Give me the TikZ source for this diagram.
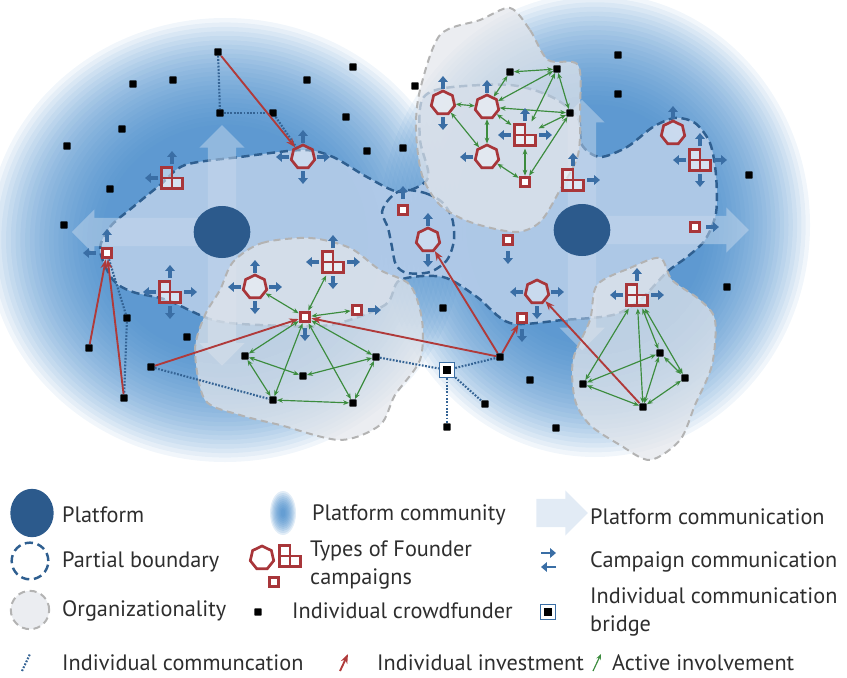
\documentclass[tikz,border=0pt]{standalone}
\usepackage{fontspec}
\setmainfont{PT Sans}
\usetikzlibrary{shapes.geometric,shapes.arrows,arrows.meta}

\definecolor{platblue}{HTML}{2C5A8C}
\definecolor{commblue}{HTML}{3A6EA5}
\definecolor{bndblue}{HTML}{2F5F90}
\definecolor{cloudblue}{HTML}{3F86C8}
\definecolor{innerblue}{HTML}{B4CCE9}
\definecolor{arrowpale}{HTML}{C6D8EC}
\definecolor{campred}{HTML}{A8363A}
\definecolor{invred}{HTML}{B03A3A}
\definecolor{actgreen}{HTML}{3C8C3E}
\definecolor{orggray}{HTML}{E3E6EB}
\definecolor{orgline}{HTML}{B3B3B3}
\definecolor{txtgray}{HTML}{2E2E2E}

\tikzset{
  platform/.style={ellipse, fill=platblue, minimum width=1.7cm, minimum height=1.56cm, inner sep=0pt},
  platcomm/.style={single arrow, fill=arrowpale, fill opacity=0.5, inner xsep=0pt, inner ysep=0.42cm,
    single arrow head extend=0.25cm, anchor=tail},
  crowd/.style={rectangle, rounded corners=0.6pt, fill=black, minimum size=0.22cm, inner sep=0pt},
  bridge/.style={rectangle, draw=commblue, line width=1pt, fill=white, minimum size=0.46cm, inner sep=0pt,
    path picture={\fill[black] ([shift={(-0.11cm,-0.11cm)}]path picture bounding box.center) rectangle ++(0.22cm,0.22cm);}},
  hexa/.style={regular polygon, regular polygon sides=7, draw=campred, line width=2.3pt, fill=white,
    fill opacity=0.35, minimum size=0.72cm, inner sep=0pt},
  sqr/.style={rectangle, draw=campred, line width=2.6pt, fill=white, minimum size=0.29cm, inner sep=0pt},
  tetris/.style={rectangle, minimum size=0.8cm, inner sep=0pt, path picture={
    \foreach \dx/\dy in {-1/0,-1/-1,0/-1}
      \draw[campred, line width=2.1pt, fill=white, fill opacity=0.5]
        ([shift={(\dx*0.31cm,\dy*0.31cm)}]path picture bounding box.center) rectangle ++(0.31cm,0.31cm);}},
  orgreg/.style={fill=orggray, fill opacity=0.72, draw=orgline, line width=1.7pt, dash pattern=on 6pt off 4pt},
  bound/.style={draw=bndblue, line width=2.1pt, dash pattern=on 7pt off 4pt},
  indcomm/.style={draw=commblue!90!black, line width=1.8pt, dash pattern=on 1.5pt off 1.3pt},
  invest/.style={draw=invred, line width=1.6pt, -{Stealth[length=8pt,width=6pt]}},
  active/.style={draw=actgreen, line width=1pt, {Stealth[length=5pt,width=4pt]}-{Stealth[length=5pt,width=4pt]}},
  activeone/.style={draw=actgreen, line width=1pt, -{Stealth[length=5pt,width=4pt]}},
  campcomm/.style={draw=commblue, line width=2.8pt, -{Triangle[width=8pt,length=5pt]}},
  legtext/.style={anchor=west, inner sep=0pt, align=left, text=txtgray, font=\fontsize{19}{24}\selectfont},
}

\begin{document}
\begin{tikzpicture}[x=0.03cm, y=0.03cm]
  \useasboundingbox (0,0) rectangle (847,-677);

  % platform community cloud
  \foreach \k in {0,...,24} {
    \fill[cloudblue, opacity=0.07] (225,-240) ellipse [x radius={238*(1-\k/50)}, y radius={222*(1-\k/50)}];
    \fill[cloudblue, opacity=0.07] (595,-225) ellipse [x radius={215*(1-\k/50)}, y radius={232*(1-\k/50)}];
  }

  % partial boundaries
  \draw[bound, fill=innerblue, fill opacity=0.92] plot[smooth cycle] coordinates {
    (100,-250) (110,-227) (133,-207) (160,-185) (185,-165) (240,-157) (303,-150) (333,-157)
    (367,-177) (400,-192) (428,-178) (420,-140) (422,-100) (445,-88) (510,-85) (552,-97)
    (578,-118) (582,-145) (600,-157) (627,-147) (653,-127) (675,-118) (695,-123) (710,-143)
    (716,-175) (716,-213) (705,-240) (687,-257) (667,-272) (640,-300) (613,-315) (563,-320)
    (510,-323) (477,-297) (443,-277) (400,-280) (385,-305) (330,-325) (260,-325) (213,-320)
    (167,-300) (133,-292) (113,-280)};
  \draw[bound] plot[smooth cycle] coordinates {
    (403,-190) (425,-193) (442,-202) (452,-218) (454,-240) (447,-260) (430,-272) (407,-273)
    (396,-265) (392,-247) (388,-228) (382,-212) (390,-198)};

  % platform communication
  \coordinate (lpc) at (222,-232);
  \coordinate (rpc) at (582,-230);
  \node[platcomm, rotate=90, minimum height=3.2cm] (lpu) at (lpc) {};
  \node[platcomm, rotate=180, minimum height=4.5cm] (lpl) at (lpc) {};
  \node[platcomm, rotate=-90, minimum height=4.0cm] (lpd) at (lpc) {};
  \node[platcomm, rotate=90, minimum height=3.9cm] (rpu) at (rpc) {};
  \node[platcomm, minimum height=5.0cm] (rpr) at (rpc) {};
  \node[platcomm, rotate=-90, minimum height=3.6cm] (rpd) at (rpc) {};

  % organizationality
  \draw[orgreg] plot[smooth cycle] coordinates {
    (510,-8) (530,-30) (548,-60) (578,-65) (580,-110) (578,-155) (560,-190) (540,-222)
    (515,-232) (470,-222) (440,-205) (422,-175) (416,-130) (420,-90) (440,-35) (480,-20)};
  \draw[orgreg] plot[smooth cycle] coordinates {
    (233,-262) (262,-243) (310,-238) (350,-248) (380,-270) (410,-285) (422,-320) (420,-360)
    (395,-395) (380,-425) (340,-440) (280,-425) (240,-415) (205,-400) (195,-350) (205,-315) (220,-290)};
  \draw[orgreg] plot[smooth cycle] coordinates {
    (597,-285) (630,-268) (660,-258) (672,-280) (700,-300) (715,-320) (712,-365) (695,-405)
    (680,-440) (650,-460) (620,-445) (590,-425) (575,-400) (573,-360) (590,-320)};

  % platforms
  \node[platform] (lp) at (lpc) {};
  \node[platform] (rp) at (rpc) {};

  % founder campaigns
  \foreach \n/\x/\y in {h1/303/157, h2/443/103, h3/487/107, h4/487/157, h5/673/133, h6/428/240, h7/255/287, h8/537/292}
    \node[hexa] (\n) at (\x,-\y) {};
  \foreach \n/\x/\y in {t1/172/178, t2/525/135, t3/573/180, t4/700/160, t5/170/292, t6/333/262, t7/637/295}
    \node[tetris] (\n) at (\x,-\y) {};
  \foreach \n/\x/\y in {s1/107/253, s2/403/210, s3/525/182, s4/508/240, s5/695/227, s6/305/317, s7/357/310, s8/522/318}
    \node[sqr] (\n) at (\x,-\y) {};

  % individual crowdfunders
  \foreach \n/\x/\y in {c1/218/52, c2/133/84, c3/173/80, c4/307/80, c5/353/67, c6/415/86, c7/122/129,
      c8/220/113, c9/273/113, c10/346/117, c11/67/146, c12/367/151, c13/403/148, c14/110/189,
      c15/64/225, c16/510/72, c17/557/69, c18/570/113, c19/618/55, c20/618/94, c21/749/175,
      c22/127/318, c23/89/348, c24/124/398, c25/187/337, c26/151/367, c27/245/356, c28/303/376,
      c29/273/400, c30/353/403, c31/376/357, c32/443/308, c33/500/357, c34/530/380, c35/485/404,
      c36/447/427, c37/556/428, c38/583/384, c39/660/353, c40/685/378, c41/643/407, c42/727/287}
    \node[crowd] (\n) at (\x,-\y) {};
  \node[bridge] (br) at (447,-370) {};

  % individual communication
  \foreach \a/\b in {c1/c8, c8/c9, c9/h1, s1/c22, c22/c24, c26/c29, c31/br, br/c33, br/c36, br/c35}
    \draw[indcomm] (\a) -- (\b);

  % individual investment
  \foreach \a/\b in {c1/h1, c23/s1, c24/s1, c26/s6, c33/s6, c33/h6, c33/s8, c41/h8}
    \draw[invest] (\a) -- (\b);

  % active involvement
  \foreach \a/\b in {s6/h7, s6/t6, s6/s7, s6/c27, s6/c29, s6/c30, s6/c31, c27/c28, c27/c29, c29/c30,
      c31/c28, c31/c30, t7/c38, t7/c41, t7/c39, t7/c40, c38/c39, c38/c41, c41/c39, c41/c40, c39/c40,
      h2/h3, h2/h4, h3/c16, h3/c17, c16/c17, h3/c18, h3/t2, h3/h4, c17/c18, c17/t2, c18/t2, c18/s3,
      t2/s3, h4/s3}
    \draw[active] (\a) -- (\b);

  % campaign communication
  \foreach \n/\r/\dirs in {t1/14/{90,180}, h1/14/{0,90,180,270}, s1/11/{90,180}, t5/14/{0,90,180,270},
      h7/14/{0,90,180,270}, t6/14/{0,90,180,270}, s7/11/{0}, s6/11/{270}, s2/11/{90}, h6/14/{90,270},
      s4/11/{270}, h8/14/{0,180,270}, s8/11/{270}, t7/14/{0,90,180}, s5/11/{0}, t4/14/{0,90,180,270},
      h5/14/{90}, t3/14/{0,90}, h2/14/{90,270}, h3/14/{90}, t2/14/{0,90,180}, h4/14/{180}}
    \foreach \a in \dirs
      \draw[campcomm] (\n.center) ++(\a:\r) -- ++(\a:13);

  % legend
  \node[platform, minimum width=1.3cm, minimum height=1.45cm] (lgplat) at (32,-513) {};
  \node[legtext] (lgplatt) at (62,-515) {Platform};
  \foreach \k in {0,...,9}
    \fill[cloudblue, opacity=0.15] (283,-513) ellipse [x radius={13*(1-\k/11)}, y radius={22*(1-\k/11)}];
  \node[legtext] (lgcomt) at (312,-515) {Platform community};
  \node[platcomm, anchor=center, minimum height=1.55cm] (lgpc) at (555,-513) {};
  \node[legtext] (lgpct) at (590,-517) {Platform communication};

  \node[circle, bound, minimum size=1.1cm] (lgbnd) at (30,-561) {};
  \node[legtext] (lgbndt) at (62,-562) {Partial boundary};
  \node[hexa] (lghex) at (262,-558) {};
  \node[tetris] (lgtet) at (290,-556) {};
  \node[sqr] (lgsq) at (274,-582) {};
  \node[legtext] (lgcampt) at (310,-565) {Types of Founder\\campaigns};
  \coordinate (lgcc1) at (541,-553);
  \coordinate (lgcc2) at (556,-553);
  \coordinate (lgcc3) at (556,-567);
  \coordinate (lgcc4) at (541,-567);
  \draw[campcomm, line width=2.4pt] (lgcc1) -- (lgcc2);
  \draw[campcomm, line width=2.4pt] (lgcc3) -- (lgcc4);
  \node[legtext] (lgcct) at (590,-562) {Campaign communication};

  \node[circle, orgreg, minimum size=1.15cm] (lgorg) at (30,-610) {};
  \node[legtext] (lgorgt) at (62,-611) {Organizationality};
  \node[crowd] (lgcrowd) at (258,-612) {};
  \node[legtext] (lgcrowdt) at (292,-611) {Individual crowdfunder};
  \node[bridge] (lgbr) at (548,-612) {};
  \node[legtext] (lgbrt) at (590,-612) {Individual communication\\bridge};

  \foreach \nm/\x in {lgdot/22, lginv/340, lgact/593} {
    \coordinate (\nm a) at (\x,-671);
    \coordinate (\nm b) at (\x+8,-654);
  }
  \draw[indcomm] (lgdota) -- (lgdotb);
  \draw[invest] (lginva) -- (lginvb);
  \draw[activeone] (lgacta) -- (lgactb);
  \node[legtext] (lgdott) at (62,-663) {Individual communcation};
  \node[legtext] (lginvt) at (377,-663) {Individual investment};
  \node[legtext] (lgactt) at (612,-663) {Active involvement};
\end{tikzpicture}
\end{document}
